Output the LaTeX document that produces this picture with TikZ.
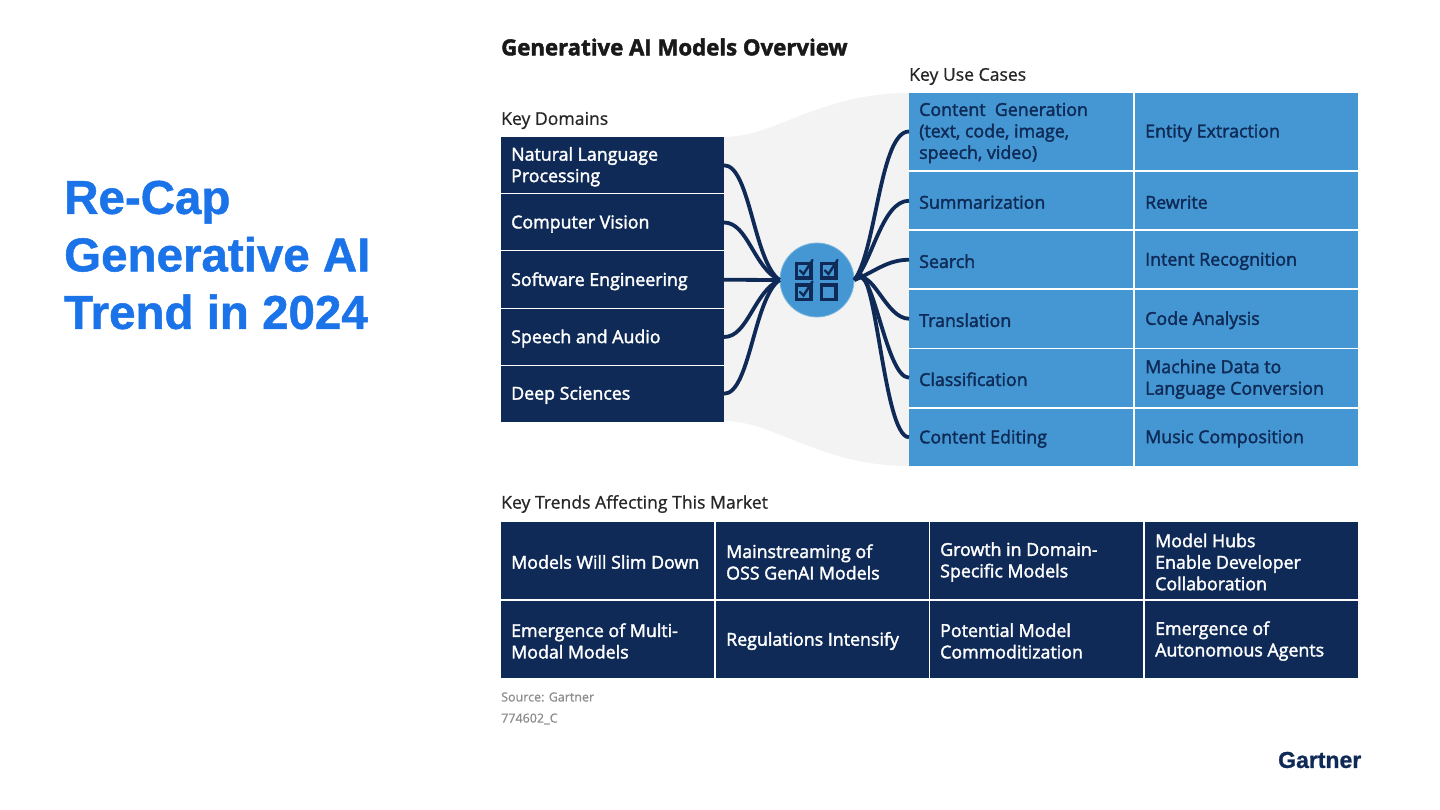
\documentclass[tikz,border=0pt]{standalone}
\usepackage{fontspec}
\setmainfont{Liberation Sans}
\newfontfamily\capf[BoldFeatures={FakeBold=1}]{Liberation Sans}
\newfontfamily\bodyf[FakeBold=2]{Open Sans}
\newfontfamily\headf[FakeBold=0.8]{Open Sans}
\newfontfamily\titlef[BoldFeatures={FakeBold=2}]{Open Sans}
\definecolor{navy}{HTML}{0F2A56}
\definecolor{sky}{HTML}{4497D2}
\definecolor{pale}{HTML}{F3F3F3}
\definecolor{titleblue}{HTML}{1A73E8}
\definecolor{soft}{HTML}{8C8C8C}
\tikzset{
  cell/.style={anchor=north west,inner sep=0pt,outer sep=0pt},
  darkcell/.style={cell,fill=navy},
  bluecell/.style={cell,fill=sky},
  celltext/.style={anchor=west,inner sep=0pt,align=left,font=\bodyf\fontsize{17.8}{21.5}\selectfont},
  heading/.style={anchor=west,inner sep=0pt,font=\headf\fontsize{17.6}{20}\selectfont,text=black!85},
  note/.style={anchor=west,inner sep=0pt,font=\headf\fontsize{12.5}{15}\selectfont,text=soft},
  link/.style={draw=navy,line width=3.8pt},
  tick/.style={draw=navy,line width=3.2pt},
}
% style, text colour, name, x, y, width, height, text
\newcommand{\cellnode}[8]{%
  \node[#1,minimum width=#6pt,minimum height=#7pt] (#3) at (#4,#5) {};
  \node[celltext,text=#2] (#3txt) at ([xshift=10pt,yshift=-1.5pt]#3.west) {#8};}
\newcommand{\checkbox}[3]{%
  \draw[tick] (#1,#2) rectangle ++(14.5,14.5);
  \ifnum#3=1
  \draw[navy,line width=2.4pt,line cap=round] (#1+3.5,#2+7) -- (#1+7,#2+10.5) -- (#1+16,#2-3.5);
  \fi}
\begin{document}
\begin{tikzpicture}[x=1pt,y=-1pt]
\useasboundingbox (0,0) rectangle (1440,810);
\fill[white] (0,0) rectangle (1440,810);
\node[anchor=north west,inner sep=0pt,align=left,text=titleblue,font=\capf\fontsize{47.5}{57.5}\selectfont\bfseries] (maintitle) at (64,180.5) {Re-Cap\\Generative AI\\Trend in 2024};
\node[anchor=west,inner sep=0pt,font=\titlef\fontsize{22.2}{25}\selectfont\bfseries,text=black!90] (overview) at (501,47) {Generative AI Models Overview};
\node[heading] (keyuse) at (909,76.5) {Key Use Cases};
\node[heading] (keydom) at (501,120.5) {Key Domains};
\node[heading] (keytr) at (501,504) {Key Trends Affecting This Market};
\fill[pale] (724,137) .. controls (775,137) and (820,93) .. (909,93) -- (909,466) .. controls (820,466) and (775,421) .. (724,421) -- cycle;
\cellnode{darkcell}{white}{l1}{501}{137}{223}{56.5}{Natural Language\\Processing}
\cellnode{darkcell}{white}{l2}{501}{194.5}{223}{56}{Computer Vision}
\cellnode{darkcell}{white}{l3}{501}{251.5}{223}{56.5}{Software Engineering}
\cellnode{darkcell}{white}{l4}{501}{309}{223}{56}{Speech and Audio}
\cellnode{darkcell}{white}{l5}{501}{366}{223}{55.5}{Deep Sciences}
\foreach \nm/\yy/\hh/\ta/\tb in {
 1/93/77/{Content\ \ Generation\\(text, code, image,\\speech, video)}/Entity Extraction,
 2/172/57.5/Summarization/Rewrite,
 3/231/57.5/Search/Intent Recognition,
 4/290/57.5/Translation/Code Analysis,
 5/349/57.5/Classification/{Machine Data to\\Language Conversion},
 6/408.5/57.5/Content Editing/Music Composition}{
  \cellnode{bluecell}{navy}{r\nm}{909}{\yy}{224}{\hh}{\ta}
  \cellnode{bluecell}{navy}{s\nm}{1135}{\yy}{223}{\hh}{\tb}
}
\node[circle,fill=sky,draw=sky!70!white,line width=.8pt,minimum size=74pt,inner sep=0pt] (hub) at (817,280) {};
\draw[link] (l1.east) .. controls +(26,0) and +(-26,-18) .. (hub.west);
\draw[link] (l2.east) .. controls +(24,0) and +(-26,-12) .. (hub.west);
\draw[link] (l3.east) -- (hub.west);
\draw[link] (l4.east) .. controls +(24,0) and +(-26,12) .. (hub.west);
\draw[link] (l5.east) .. controls +(26,0) and +(-26,18) .. (hub.west);
\draw[link] (r1.west) .. controls +(-29,0) and +(22,-30) .. (hub.east);
\draw[link] (r2.west) .. controls +(-27,0) and +(18,-18) .. (hub.east);
\draw[link] (r3.west) .. controls +(-22,0) and +(20,-8) .. (hub.east);
\draw[link] (r4.west) .. controls +(-24,0) and +(18,-15) .. (hub.east);
\draw[link] (r5.west) .. controls +(-24,0) and +(18,-25) .. (hub.east);
\draw[link] (r6.west) .. controls +(-27,0) and +(21,-40) .. (hub.east);
\checkbox{796.5}{263.5}{1}
\checkbox{821.5}{263.5}{1}
\checkbox{796.5}{285}{1}
\checkbox{821.5}{285}{0}
\foreach \nm/\xx/\ww/\ta/\tb in {
 1/501/213/Models Will Slim Down/{Emergence of Multi-\\Modal Models},
 2/716/212.5/{Mainstreaming of\\OSS GenAI Models}/Regulations Intensify,
 3/930/213/{Growth in Domain-\\Specific Models}/{Potential Model\\Commoditization},
 4/1145/213/{Model Hubs\\Enable Developer\\Collaboration}/{Emergence of\\Autonomous Agents}}{
  \cellnode{darkcell}{white}{t\nm}{\xx}{522}{\ww}{77}{\ta}
  \cellnode{darkcell}{white}{u\nm}{\xx}{601}{\ww}{77}{\tb}
}
\node[note] (src) at (501,697) {Source: Gartner};
\node[note] (code) at (501,719) {774602\_C};
\node[anchor=west,inner sep=0pt,font=\capf\fontsize{23}{26}\selectfont\bfseries,text=navy] (logo) at (1278,760) {Gartner};
\end{tikzpicture}
\end{document}
